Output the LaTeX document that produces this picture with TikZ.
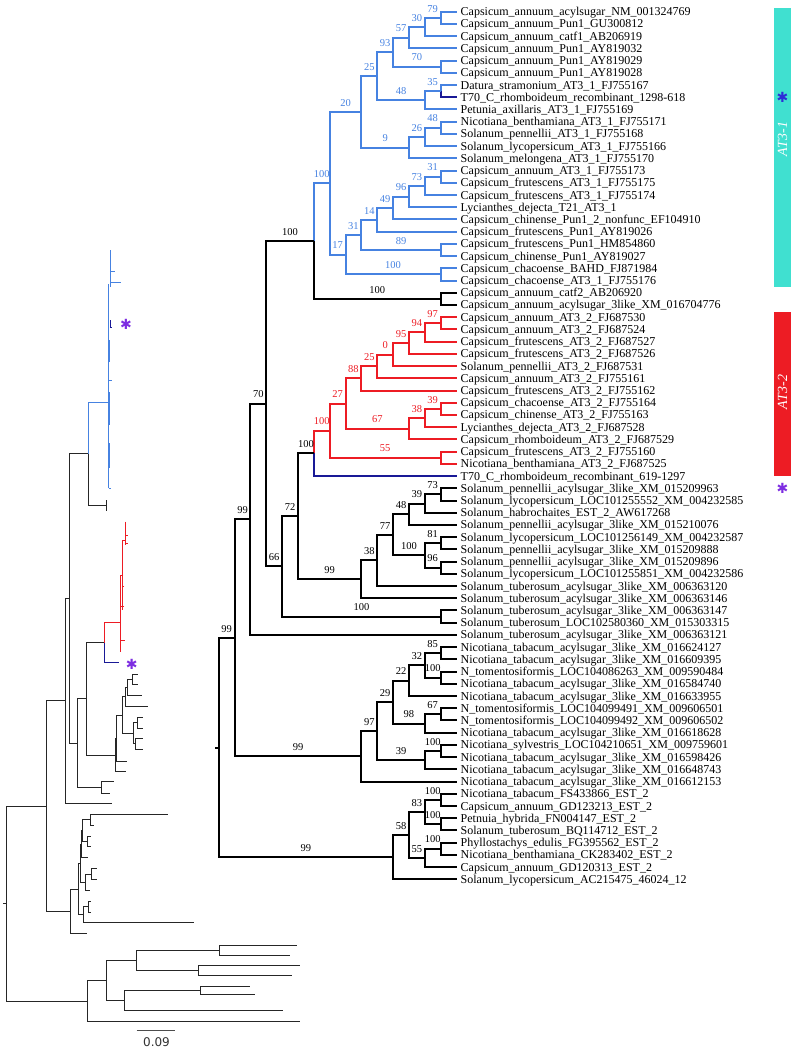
\documentclass[tikz,border=0pt]{standalone}
\usepackage{fontspec}
\setmainfont{Liberation Serif}
\newfontfamily\symfont{DejaVu Sans}

\definecolor{treeblue}{RGB}{70,130,225}
\definecolor{treered}{RGB}{237,28,36}
\definecolor{treenavy}{RGB}{25,25,150}
\definecolor{barcyan}{RGB}{64,224,208}
\definecolor{starpurple}{RGB}{125,45,225}
\definecolor{starblue}{RGB}{45,45,215}

\tikzset{
  leaf/.style={anchor=west, inner xsep=4pt, inner ysep=0pt, text height=8.8pt, text depth=0.8pt, font=\fontsize{12}{12}\selectfont},
  boot/.style={anchor=base, yshift=5.8pt, inner sep=0pt, font=\fontsize{10.5}{10.5}\selectfont},
  cb/.style={line width=2pt, color=treeblue},
  cr/.style={line width=2pt, color=treered},
  cn/.style={line width=2pt, color=treenavy},
  ck/.style={line width=2pt, color=black},
  ob/.style={line width=0.9pt, color=treeblue},
  orr/.style={line width=0.9pt, color=treered},
  on/.style={line width=0.9pt, color=treenavy},
  ok/.style={line width=0.9pt, color=black!85},
  star/.style={font=\symfont\fontsize{14}{14}\selectfont, inner sep=0pt},
  cladebar/.style={minimum width=17pt, inner sep=0pt},
  cladename/.style={rotate=90, text=white, font=\itshape\fontsize{14}{14}\selectfont}
}

\begin{document}
\begin{tikzpicture}[x=1pt, y=-1pt]
  \useasboundingbox (0,0) rectangle (795,1049);

  % ---------- overview phylogram (left) ----------
  \coordinate (ostub) at (3,903.6);
  \coordinate (oroot) at (6,903.6);
  \coordinate (oA) at (46.7,806);
  \coordinate (oA1) at (65,700.8);
  \coordinate (o70) at (69.3,598.3);
  \coordinate (okb) at (88.3,453.6);
  \coordinate (oblue) at (108.7,402);
  \coordinate (okc) at (106.7,505.7);
  \coordinate (ol24) at (106.7,500.3);
  \coordinate (ol25) at (106.7,511);
  \coordinate (o66) at (77.3,743.3);
  \coordinate (o72) at (86,698.5);
  \coordinate (od) at (104,642.5);
  \coordinate (ored) at (120.7,622.7);
  \coordinate (ot70) at (119,662.3);
  \coordinate (o100t) at (101.7,787.5);
  \coordinate (ol50) at (114.3,781.7);
  \coordinate (ol51) at (110,793.3);
  \coordinate (ol52) at (112.3,803.3);
  \coordinate (on99) at (70,911.3);
  \coordinate (oE) at (87.3,1001);

  \draw[ok] (ostub) -- (oroot);
  \draw[ok] (oroot) |- (oA) (oroot) |- (oE);
  \draw[ok] (oA) |- (oA1) (oA) |- (on99);
  \draw[ok] (oA1) |- (o70) (oA1) |- (ol52);
  \draw[ok] (o70) |- (okb) (o70) |- (o66);
  \draw[ob] (okb) |- (oblue);
  \draw[ok] (okb) |- (okc);
  \draw[ok] (ol24) -- (ol25);
  \draw[ok] (o66) |- (o72) (o66) |- (o100t);
  \draw[ok] (o100t) |- (ol50) (o100t) |- (ol51);
  \draw[ok] (o72) |- (od);
  \draw[orr] (od) |- (ored);
  \draw[on] (od) |- (ot70);

  % AT3-1 twigs
  \draw[ob] (110.7,250) -- (110.7,287);
  \draw[ob] (108.7,284) -- (108.7,488);
  \draw[ob] (110.7,271.7) -- (115,271.7);
  \draw[ob] (110.7,282.7) -- (121,282.7);
  \draw[ob] (108.7,380) -- (111.7,380);
  \draw[ob] (108.7,488) -- (110.7,488);
  \draw[ob] (109.7,340) -- (109.7,362);
  \draw[ob] (109.7,392) -- (109.7,425);
  \draw[ob] (109.7,443) -- (109.7,468);
  \draw[on] (110.5,320) -- (110.5,327) -- (112,327);
  % AT3-2 twigs
  \draw[orr] (125,521.7) -- (125,545);
  \draw[orr] (125,535) -- (128.3,535);
  \draw[orr] (125,543) -- (128.3,543);
  \draw[orr] (122.7,540) -- (122.7,610);
  \draw[orr] (122.7,540) -- (125,540);
  \draw[orr] (120.7,575) -- (120.7,651.7);
  \draw[orr] (120.7,575) -- (122.7,575);
  \draw[orr] (122.7,586) -- (124.3,586);
  \draw[orr] (120.7,606) -- (124,606);
  \draw[orr] (120.7,640) -- (125,640);

  % Solanum acylsugar group
  \coordinate (os99) at (115,755);
  \coordinate (os38) at (116.7,738);
  \coordinate (ol49) at (125.7,771.7);
  \coordinate (os77) at (122.7,715);
  \coordinate (ol48) at (126.7,761);
  \coordinate (os48) at (125,696.8);
  \coordinate (os100) at (133.3,733);
  \coordinate (os39) at (127.7,687);
  \coordinate (ol43) at (148.3,706.7);
  \coordinate (os73) at (132.3,679);
  \coordinate (ol42) at (141.7,695.7);
  \coordinate (ol40) at (138.3,674);
  \coordinate (ol41) at (138.3,684);
  \coordinate (os81) at (137.3,722.5);
  \coordinate (ol44) at (142.7,717);
  \coordinate (ol45) at (142.7,728);
  \coordinate (os96) at (135,743.5);
  \coordinate (ol46) at (142.7,738);
  \coordinate (ol47) at (142.7,749);
  \draw[ok] (o72) |- (os99);
  \draw[ok] (os99) |- (os38) (os99) |- (ol49);
  \draw[ok] (os38) |- (os77) (os38) |- (ol48);
  \draw[ok] (os77) |- (os48) (os77) |- (os100);
  \draw[ok] (os48) |- (os39) (os48) |- (ol43);
  \draw[ok] (os39) |- (os73) (os39) |- (ol42);
  \draw[ok] (os73) |- (ol40) (os73) |- (ol41);
  \draw[ok] (os100) |- (os81) (os100) |- (os96);
  \draw[ok] (os81) |- (ol44) (os81) |- (ol45);
  \draw[ok] (os96) |- (ol46) (os96) |- (ol47);

  % Nicotiana acylsugar group
  \coordinate (on97) at (78.3,889);
  \coordinate (ol64) at (86.7,933.7);
  \coordinate (on29) at (80,863.2);
  \coordinate (on39) at (83.3,914.7);
  \coordinate (on22) at (81.3,844.1);
  \coordinate (on98) at (85,882.2);
  \coordinate (on32) at (82.3,830.6);
  \coordinate (ol57) at (88.3,857.7);
  \coordinate (on85) at (90,819.7);
  \coordinate (on100) at (87.3,841.5);
  \coordinate (ol53) at (168.3,814.3);
  \coordinate (ol54) at (94.3,825.2);
  \coordinate (ol55) at (90.7,836);
  \coordinate (ol56) at (90.7,846.9);
  \coordinate (on67) at (91.7,874);
  \coordinate (ol60) at (90,890.3);
  \coordinate (ol58) at (96.7,868.6);
  \coordinate (ol59) at (96.7,879.4);
  \coordinate (on100x) at (88.3,906.6);
  \coordinate (ol63) at (194.3,922.8);
  \coordinate (ol61) at (90.7,901.1);
  \coordinate (ol62) at (90.7,912);
  \draw[ok] (on99) |- (on97) (on99) |- (ol64);
  \draw[ok] (on97) |- (on29) (on97) |- (on39);
  \draw[ok] (on29) |- (on22) (on29) |- (on98);
  \draw[ok] (on22) |- (on32) (on22) |- (ol57);
  \draw[ok] (on32) |- (on85) (on32) |- (on100);
  \draw[ok] (on85) |- (ol53) (on85) |- (ol54);
  \draw[ok] (on100) |- (ol55) (on100) |- (ol56);
  \draw[ok] (on98) |- (on67) (on98) |- (ol60);
  \draw[ok] (on67) |- (ol58) (on67) |- (ol59);
  \draw[ok] (on39) |- (on100x) (on39) |- (ol63);
  \draw[ok] (on100x) |- (ol61) (on100x) |- (ol62);

  % EST_2 group
  \coordinate (oe58) at (106,980);
  \coordinate (ol72) at (300,1021.7);
  \coordinate (oe83) at (136.7,960);
  \coordinate (oe55) at (124.7,1000);
  \coordinate (oe100a) at (219,950);
  \coordinate (oe100b) at (198.3,970);
  \coordinate (oe100c) at (200,990);
  \coordinate (ol65) at (297,945);
  \coordinate (ol66) at (290,955);
  \coordinate (ol67) at (300,965);
  \coordinate (ol68) at (292,975);
  \coordinate (ol69) at (250,986);
  \coordinate (ol70) at (255,994);
  \coordinate (ol71) at (283,1010);
  \draw[ok] (oE) |- (oe58) (oE) |- (ol72);
  \draw[ok] (oe58) |- (oe83) (oe58) |- (oe55);
  \draw[ok] (oe83) |- (oe100a) (oe83) |- (oe100b);
  \draw[ok] (oe100a) |- (ol65) (oe100a) |- (ol66);
  \draw[ok] (oe100b) |- (ol67) (oe100b) |- (ol68);
  \draw[ok] (oe55) |- (oe100c) (oe55) |- (ol71);
  \draw[ok] (oe100c) |- (ol69) (oe100c) |- (ol70);

  % recombinant markers and scale bar
  \node[star, text=starpurple] (sa) at (126,324) {✱};
  \node[star, text=starpurple] (sb) at (131.7,664) {✱};
  \coordinate (sc1) at (136.7,1030.7);
  \coordinate (sc2) at (175,1030.7);
  \draw[line width=0.8pt, black!70] (sc1) -- (sc2);
  \node[font=\symfont\fontsize{12}{12}\selectfont, black!80] (sclab) at (156.5,1042) {0.09};

  % ---------- bootstrap cladogram (right) ----------
  \begin{scope}[shift={(456.5,-0.52)}, x=-15.85pt, y=-12.22pt]
    \foreach \t [count=\i] in {
      Capsicum\_annuum\_acylsugar\_NM\_001324769,
      Capsicum\_annuum\_Pun1\_GU300812,
      Capsicum\_annuum\_catf1\_AB206919,
      Capsicum\_annuum\_Pun1\_AY819032,
      Capsicum\_annuum\_Pun1\_AY819029,
      Capsicum\_annuum\_Pun1\_AY819028,
      Datura\_stramonium\_AT3\_1\_FJ755167,
      T70\_C\_rhomboideum\_recombinant\_1298-618,
      Petunia\_axillaris\_AT3\_1\_FJ755169,
      Nicotiana\_benthamiana\_AT3\_1\_FJ755171,
      Solanum\_pennellii\_AT3\_1\_FJ755168,
      Solanum\_lycopersicum\_AT3\_1\_FJ755166,
      Solanum\_melongena\_AT3\_1\_FJ755170,
      Capsicum\_annuum\_AT3\_1\_FJ755173,
      Capsicum\_frutescens\_AT3\_1\_FJ755175,
      Capsicum\_frutescens\_AT3\_1\_FJ755174,
      Lycianthes\_dejecta\_T21\_AT3\_1,
      Capsicum\_chinense\_Pun1\_2\_nonfunc\_EF104910,
      Capsicum\_frutescens\_Pun1\_AY819026,
      Capsicum\_frutescens\_Pun1\_HM854860,
      Capsicum\_chinense\_Pun1\_AY819027,
      Capsicum\_chacoense\_BAHD\_FJ871984,
      Capsicum\_chacoense\_AT3\_1\_FJ755176,
      Capsicum\_annuum\_catf2\_AB206920,
      Capsicum\_annuum\_acylsugar\_3like\_XM\_016704776,
      Capsicum\_annuum\_AT3\_2\_FJ687530,
      Capsicum\_annuum\_AT3\_2\_FJ687524,
      Capsicum\_frutescens\_AT3\_2\_FJ687527,
      Capsicum\_frutescens\_AT3\_2\_FJ687526,
      Solanum\_pennellii\_AT3\_2\_FJ687531,
      Capsicum\_annuum\_AT3\_2\_FJ755161,
      Capsicum\_frutescens\_AT3\_2\_FJ755162,
      Capsicum\_chacoense\_AT3\_2\_FJ755164,
      Capsicum\_chinense\_AT3\_2\_FJ755163,
      Lycianthes\_dejecta\_AT3\_2\_FJ687528,
      Capsicum\_rhomboideum\_AT3\_2\_FJ687529,
      Capsicum\_frutescens\_AT3\_2\_FJ755160,
      Nicotiana\_benthamiana\_AT3\_2\_FJ687525,
      T70\_C\_rhomboideum\_recombinant\_619-1297,
      Solanum\_pennellii\_acylsugar\_3like\_XM\_015209963,
      Solanum\_lycopersicum\_LOC101255552\_XM\_004232585,
      Solanum\_habrochaites\_EST\_2\_AW617268,
      Solanum\_pennellii\_acylsugar\_3like\_XM\_015210076,
      Solanum\_lycopersicum\_LOC101256149\_XM\_004232587,
      Solanum\_pennellii\_acylsugar\_3like\_XM\_015209888,
      Solanum\_pennellii\_acylsugar\_3like\_XM\_015209896,
      Solanum\_lycopersicum\_LOC101255851\_XM\_004232586,
      Solanum\_tuberosum\_acylsugar\_3like\_XM\_006363120,
      Solanum\_tuberosum\_acylsugar\_3like\_XM\_006363146,
      Solanum\_tuberosum\_acylsugar\_3like\_XM\_006363147,
      Solanum\_tuberosum\_LOC102580360\_XM\_015303315,
      Solanum\_tuberosum\_acylsugar\_3like\_XM\_006363121,
      Nicotiana\_tabacum\_acylsugar\_3like\_XM\_016624127,
      Nicotiana\_tabacum\_acylsugar\_3like\_XM\_016609395,
      N\_tomentosiformis\_LOC104086263\_XM\_009590484,
      Nicotiana\_tabacum\_acylsugar\_3like\_XM\_016584740,
      Nicotiana\_tabacum\_acylsugar\_3like\_XM\_016633955,
      N\_tomentosiformis\_LOC104099491\_XM\_009606501,
      N\_tomentosiformis\_LOC104099492\_XM\_009606502,
      Nicotiana\_tabacum\_acylsugar\_3like\_XM\_016618628,
      Nicotiana\_sylvestris\_LOC104210651\_XM\_009759601,
      Nicotiana\_tabacum\_acylsugar\_3like\_XM\_016598426,
      Nicotiana\_tabacum\_acylsugar\_3like\_XM\_016648743,
      Nicotiana\_tabacum\_acylsugar\_3like\_XM\_016612153,
      Nicotiana\_tabacum\_FS433866\_EST\_2,
      Capsicum\_annuum\_GD123213\_EST\_2,
      Petnuia\_hybrida\_FN004147\_EST\_2,
      Solanum\_tuberosum\_BQ114712\_EST\_2,
      Phyllostachys\_edulis\_FG395562\_EST\_2,
      Nicotiana\_benthamiana\_CK283402\_EST\_2,
      Capsicum\_annuum\_GD120313\_EST\_2,
      Solanum\_lycopersicum\_AC215475\_46024\_12}
      {\node[leaf] (l\i) at (0,\i) {\t};}

    % AT3-1 clade
    \coordinate (b79) at (1,1.5);
    \coordinate (b30) at (2,2.25);
    \coordinate (b57) at (3,3.125);
    \coordinate (b70) at (1,5.5);
    \coordinate (b93) at (4,4.3125);
    \coordinate (b35) at (1,7.5);
    \coordinate (b48) at (2,8.25);
    \coordinate (b25) at (5,6.28125);
    \coordinate (b48x) at (1,10.5);
    \coordinate (b26) at (2,11.25);
    \coordinate (b9) at (3,12.125);
    \coordinate (b20) at (6,9.2031);
    \coordinate (b31x) at (1,14.5);
    \coordinate (b73) at (2,15.25);
    \coordinate (b96) at (3,16.125);
    \coordinate (b49) at (4,17.0625);
    \coordinate (b14) at (5,18.0313);
    \coordinate (b89) at (1,20.5);
    \coordinate (b31) at (6,19.2656);
    \coordinate (b100x) at (1,22.5);
    \coordinate (b17) at (7,20.8828);
    \coordinate (b100) at (8,15.043);
    \coordinate (k100c) at (1,24.5);
    \coordinate (k100) at (9,19.7715);

    \draw[cb] (b79) |- (l1.west) (b79) |- (l2.west);
    \draw[cb] (b30) |- (b79) node[boot,pos=.75]{79} (b30) |- (l3.west);
    \draw[cb] (b57) |- (b30) node[boot,pos=.75]{30} (b57) |- (l4.west);
    \draw[cb] (b70) |- (l5.west) (b70) |- (l6.west);
    \draw[cb] (b93) |- (b57) node[boot,pos=.75]{57} (b93) |- (b70) node[boot,pos=.75]{70};
    \draw[cb] (b35) |- (l7.west);
    \draw[cn] (b35) |- (l8.west);
    \draw[cb] (b48) |- (b35) node[boot,pos=.75]{35} (b48) |- (l9.west);
    \draw[cb] (b25) |- (b93) node[boot,pos=.75]{93} (b25) |- (b48) node[boot,pos=.75]{48};
    \draw[cb] (b48x) |- (l10.west) (b48x) |- (l11.west);
    \draw[cb] (b26) |- (b48x) node[boot,pos=.75]{48} (b26) |- (l12.west);
    \draw[cb] (b9) |- (b26) node[boot,pos=.75]{26} (b9) |- (l13.west);
    \draw[cb] (b20) |- (b25) node[boot,pos=.75]{25} (b20) |- (b9) node[boot,pos=.75]{9};
    \draw[cb] (b31x) |- (l14.west) (b31x) |- (l15.west);
    \draw[cb] (b73) |- (b31x) node[boot,pos=.75]{31} (b73) |- (l16.west);
    \draw[cb] (b96) |- (b73) node[boot,pos=.75]{73} (b96) |- (l17.west);
    \draw[cb] (b49) |- (b96) node[boot,pos=.75]{96} (b49) |- (l18.west);
    \draw[cb] (b14) |- (b49) node[boot,pos=.75]{49} (b14) |- (l19.west);
    \draw[cb] (b89) |- (l20.west) (b89) |- (l21.west);
    \draw[cb] (b31) |- (b14) node[boot,pos=.75]{14} (b31) |- (b89) node[boot,pos=.75]{89};
    \draw[cb] (b100x) |- (l22.west) (b100x) |- (l23.west);
    \draw[cb] (b17) |- (b31) node[boot,pos=.75]{31} (b17) |- (b100x) node[boot,pos=.75]{100};
    \draw[cb] (b100) |- (b20) node[boot,pos=.75]{20} (b100) |- (b17) node[boot,pos=.75]{17};
    \draw[ck] (k100c) |- (l24.west) (k100c) |- (l25.west);
    \draw[cb] (k100) |- (b100) node[boot,pos=.75]{100};
    \draw[ck] (k100) |- (k100c) node[boot,pos=.75]{100};

    % AT3-2 clade
    \coordinate (r97) at (1,26.5);
    \coordinate (r94) at (2,27.25);
    \coordinate (r95) at (3,28.125);
    \coordinate (r0) at (4,29.0625);
    \coordinate (r25) at (5,30.0313);
    \coordinate (r88) at (6,31.0156);
    \coordinate (r39) at (1,33.5);
    \coordinate (r38) at (2,34.25);
    \coordinate (r67) at (3,35.125);
    \coordinate (r27) at (7,33.0703);
    \coordinate (r55) at (1,37.5);
    \coordinate (r100) at (8,35.2852);
    \coordinate (d100) at (9,37.1426);

    \draw[cr] (r97) |- (l26.west) (r97) |- (l27.west);
    \draw[cr] (r94) |- (r97) node[boot,pos=.75]{97} (r94) |- (l28.west);
    \draw[cr] (r95) |- (r94) node[boot,pos=.75]{94} (r95) |- (l29.west);
    \draw[cr] (r0) |- (r95) node[boot,pos=.75]{95} (r0) |- (l30.west);
    \draw[cr] (r25) |- (r0) node[boot,pos=.75]{0} (r25) |- (l31.west);
    \draw[cr] (r88) |- (r25) node[boot,pos=.75]{25} (r88) |- (l32.west);
    \draw[cr] (r39) |- (l33.west) (r39) |- (l34.west);
    \draw[cr] (r38) |- (r39) node[boot,pos=.75]{39} (r38) |- (l35.west);
    \draw[cr] (r67) |- (r38) node[boot,pos=.75]{38} (r67) |- (l36.west);
    \draw[cr] (r27) |- (r88) node[boot,pos=.75]{88} (r27) |- (r67) node[boot,pos=.75]{67};
    \draw[cr] (r55) |- (l37.west) (r55) |- (l38.west);
    \draw[cr] (r100) |- (r27) node[boot,pos=.75]{27} (r100) |- (r55) node[boot,pos=.75]{55};
    \draw[cr] (d100) |- (r100) node[boot,pos=.75]{100};
    \draw[cn] (d100) |- (l39.west);

    % Solanum acylsugar_3like
    \coordinate (s73) at (1,40.5);
    \coordinate (s39) at (2,41.25);
    \coordinate (s48) at (3,42.125);
    \coordinate (s81) at (1,44.5);
    \coordinate (s96) at (1,46.5);
    \coordinate (s100) at (2,45.5);
    \coordinate (s77) at (4,43.8125);
    \coordinate (s38) at (5,45.9063);
    \coordinate (s99) at (6,47.4531);
    \coordinate (k72) at (10,42.2979);
    \coordinate (k100t) at (1,50.5);
    \coordinate (k66) at (11,46.3989);
    \coordinate (k70) at (12,33.0852);
    \coordinate (k99a) at (13,42.5426);

    \draw[ck] (s73) |- (l40.west) (s73) |- (l41.west);
    \draw[ck] (s39) |- (s73) node[boot,pos=.75]{73} (s39) |- (l42.west);
    \draw[ck] (s48) |- (s39) node[boot,pos=.75]{39} (s48) |- (l43.west);
    \draw[ck] (s81) |- (l44.west) (s81) |- (l45.west);
    \draw[ck] (s96) |- (l46.west) (s96) |- (l47.west);
    \draw[ck] (s100) |- (s81) node[boot,pos=.75]{81} (s100) |- (s96) node[boot,pos=.75]{96};
    \draw[ck] (s77) |- (s48) node[boot,pos=.75]{48} (s77) |- (s100) node[boot,pos=.75]{100};
    \draw[ck] (s38) |- (s77) node[boot,pos=.75]{77} (s38) |- (l48.west);
    \draw[ck] (s99) |- (s38) node[boot,pos=.75]{38} (s99) |- (l49.west);
    \draw[ck] (k72) |- (d100) node[boot,pos=.75]{100} (k72) |- (s99) node[boot,pos=.75]{99};
    \draw[ck] (k100t) |- (l50.west) (k100t) |- (l51.west);
    \draw[ck] (k66) |- (k72) node[boot,pos=.75]{72} (k66) |- (k100t) node[boot,pos=.75]{100};
    \draw[ck] (k70) |- (k100) node[boot,pos=.75]{100} (k70) |- (k66) node[boot,pos=.75]{66};
    \draw[ck] (k99a) |- (k70) node[boot,pos=.75]{70} (k99a) |- (l52.west);

    % Nicotiana acylsugar_3like
    \coordinate (n85) at (1,53.5);
    \coordinate (n100) at (1,55.5);
    \coordinate (n32) at (2,54.5);
    \coordinate (n22) at (3,55.75);
    \coordinate (n67) at (1,58.5);
    \coordinate (n98) at (2,59.25);
    \coordinate (n29) at (4,57.5);
    \coordinate (n100x) at (1,61.5);
    \coordinate (n39) at (2,62.25);
    \coordinate (n97) at (5,59.875);
    \coordinate (n99) at (6,61.9375);
    \coordinate (k99b) at (14,52.24);

    \draw[ck] (n85) |- (l53.west) (n85) |- (l54.west);
    \draw[ck] (n100) |- (l55.west) (n100) |- (l56.west);
    \draw[ck] (n32) |- (n85) node[boot,pos=.75]{85} (n32) |- (n100) node[boot,pos=.75]{100};
    \draw[ck] (n22) |- (n32) node[boot,pos=.75]{32} (n22) |- (l57.west);
    \draw[ck] (n67) |- (l58.west) (n67) |- (l59.west);
    \draw[ck] (n98) |- (n67) node[boot,pos=.75]{67} (n98) |- (l60.west);
    \draw[ck] (n29) |- (n22) node[boot,pos=.75]{22} (n29) |- (n98) node[boot,pos=.75]{98};
    \draw[ck] (n100x) |- (l61.west) (n100x) |- (l62.west);
    \draw[ck] (n39) |- (n100x) node[boot,pos=.75]{100} (n39) |- (l63.west);
    \draw[ck] (n97) |- (n29) node[boot,pos=.75]{29} (n97) |- (n39) node[boot,pos=.75]{39};
    \draw[ck] (n99) |- (n97) node[boot,pos=.75]{97} (n99) |- (l64.west);
    \draw[ck] (k99b) |- (k99a) node[boot,pos=.75]{99} (k99b) |- (n99) node[boot,pos=.75]{99};

    % EST_2 outgroup
    \coordinate (e100a) at (1,65.5);
    \coordinate (e100b) at (1,67.5);
    \coordinate (e83) at (2,66.5);
    \coordinate (e100c) at (1,69.5);
    \coordinate (e55) at (2,70.25);
    \coordinate (e58) at (3,68.375);
    \coordinate (e0) at (4,70.1875);
    \coordinate (root) at (15,61.2138);
    \coordinate (rstub) at (15.22,61.2138);

    \draw[ck] (e100a) |- (l65.west) (e100a) |- (l66.west);
    \draw[ck] (e100b) |- (l67.west) (e100b) |- (l68.west);
    \draw[ck] (e83) |- (e100a) node[boot,pos=.75]{100} (e83) |- (e100b) node[boot,pos=.75]{100};
    \draw[ck] (e100c) |- (l69.west) (e100c) |- (l70.west);
    \draw[ck] (e55) |- (e100c) node[boot,pos=.75]{100} (e55) |- (l71.west);
    \draw[ck] (e58) |- (e83) node[boot,pos=.75]{83} (e58) |- (e55) node[boot,pos=.75]{55};
    \draw[ck] (e0) |- (e58) node[boot,pos=.75]{58} (e0) |- (l72.west);
    \draw[ck] (root) |- (k99b) node[boot,pos=.75]{99} (root) |- (e0) node[boot,pos=.75]{99};
    \draw[ck] (rstub) -- (root);
  \end{scope}

  % ---------- clade bars ----------
  \node[cladebar, fill=barcyan, minimum height=279pt] (bar1) at (782.5,147.5) {};
  \node[cladename] (name1) at (782.5,139) {AT3-1};
  \node[star, text=starblue] (st1) at (782.5,97) {✱};
  \node[cladebar, fill=treered, minimum height=164pt] (bar2) at (782.5,394) {};
  \node[cladename] (name2) at (782.5,392) {AT3-2};
  \node[star, text=starpurple] (st2) at (782.5,488) {✱};
\end{tikzpicture}
\end{document}
